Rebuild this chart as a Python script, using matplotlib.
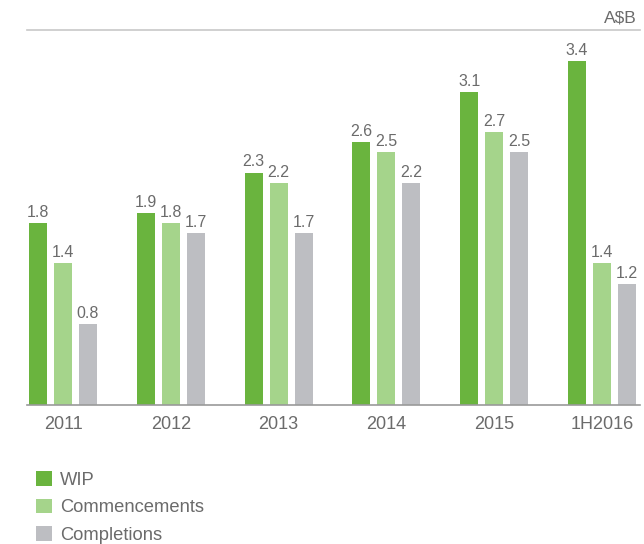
import numpy as np
import matplotlib
matplotlib.use("Agg")
import matplotlib.pyplot as plt

plt.rcParams['font.family'] = ['Liberation Sans', 'DejaVu Sans']

# Data (A$B)
periods = ["2011", "2012", "2013", "2014", "2015", "1H2016"]
wip = [1.8, 1.9, 2.3, 2.6, 3.1, 3.4]
commencements = [1.4, 1.8, 2.2, 2.5, 2.7, 1.4]
completions = [0.8, 1.7, 1.7, 2.2, 2.5, 1.2]

series_names = ["WIP", "Commencements", "Completions"]
colors = ["#6ab43e", "#a5d48b", "#bdbec2"]
text_gray = "#6b6b6b"

fig = plt.figure(figsize=(6.44, 5.44), dpi=100)
ax = fig.add_axes([27 / 644, 1 - 405 / 544, 613 / 644, 375 / 544])

x = np.arange(len(periods))
width = 0.167
step = 0.232

handles = []
for i, (vals, name, col) in enumerate(zip([wip, commencements, completions], series_names, colors)):
    bars = ax.bar(x + (i - 1) * step, vals, width, color=col, label=name)
    handles.append(bars)
    for b, v in zip(bars, vals):
        ax.text(b.get_x() + b.get_width() / 2, v + 0.03, f"{v:.1f}",
                ha="center", va="bottom", fontsize=11.5, color=text_gray)

ax.set_xlim(-0.334, 5.352)
ax.set_ylim(0, 3.71)
ax.set_xticks(x)
ax.set_xticklabels(periods, fontsize=13, color=text_gray)
ax.tick_params(axis="x", length=0, pad=8)
ax.set_yticks([])
for s in ["left", "right"]:
    ax.spines[s].set_visible(False)
ax.spines["bottom"].set_color("#9a9a9a")
ax.spines["bottom"].set_linewidth(1.2)
ax.spines["top"].set_color("#c8c8c8")
ax.spines["top"].set_linewidth(1.2)

fig.text(637 / 644, 1 - 18 / 544, "A$B", ha="right", va="center",
         fontsize=12.5, color=text_gray)

fig.legend(handles=handles, labels=series_names, loc="upper left",
           bbox_to_anchor=(36 / 644, 1 - 471 / 544), frameon=False,
           fontsize=13.2, labelcolor=text_gray, handlelength=0.85,
           handleheight=0.85, handletextpad=0.45, labelspacing=0.55,
           borderpad=0, borderaxespad=0)

fig.savefig("out.png", dpi=100)
